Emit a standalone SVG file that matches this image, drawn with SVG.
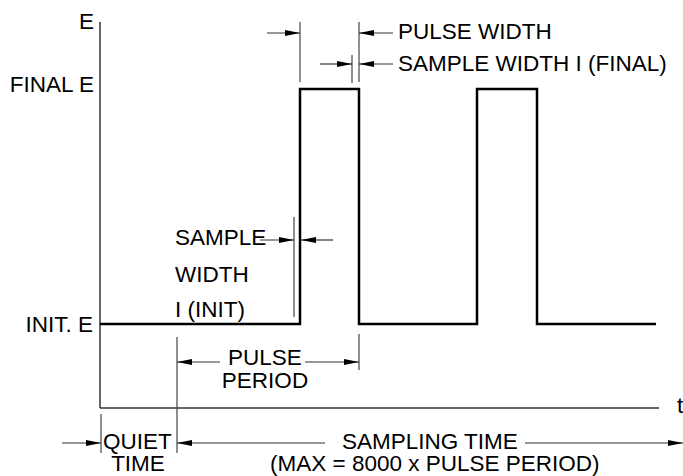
<svg xmlns="http://www.w3.org/2000/svg" width="683" height="476" viewBox="0 0 683 476">
<defs>
<style>
text{font-family:"Liberation Sans",Arial,sans-serif;font-size:22.5px;fill:#000}
.ax{stroke:#333;stroke-width:1.5;fill:none}
.dim{stroke:#444;stroke-width:1.2;fill:none}
.wave{stroke:#000;stroke-width:2.5;fill:none;stroke-linejoin:miter}
.arr{stroke:#333;stroke-width:1.2;fill:none;marker-end:url(#ah)}
.e{text-anchor:end}
.m{text-anchor:middle}
</style>
<marker id="ah" viewBox="0 -3 15 6" refX="15" refY="0" markerWidth="15" markerHeight="6" markerUnits="userSpaceOnUse" orient="auto">
<path d="M0,-3 L15,0 L0,3 z" fill="#000"/>
</marker>
</defs>
<rect width="683" height="476" fill="#fff"/>
<g id="axes">
<line class="ax" x1="100" y1="22" x2="100" y2="408"/>
<line class="ax" x1="100" y1="408" x2="659" y2="408"/>
<text x="94" y="29" class="e">E</text>
<text x="677" y="413">t</text>
</g>
<g id="waveform">
<path class="wave" d="M100,324 H300 V89 H359 V324 H477 V89 H537 V324 H656"/>
<text x="94" y="92" class="e">FINAL E</text>
<text x="93" y="332" class="e">INIT. E</text>
</g>
<g id="extension-lines">
<line class="dim" x1="300" y1="22" x2="300" y2="82"/>
<line class="dim" x1="359" y1="22" x2="359" y2="82"/>
<line class="dim" x1="352" y1="55" x2="352" y2="83"/>
<line class="dim" x1="294" y1="217" x2="294" y2="317"/>
<line class="dim" x1="177" y1="337" x2="177" y2="453"/>
<line class="dim" x1="359" y1="334" x2="359" y2="370"/>
<line class="dim" x1="101" y1="414" x2="101" y2="453"/>
</g>
<g id="connectors">
<line class="arr" x1="267" y1="33" x2="300" y2="33"/>
<line class="arr" x1="393" y1="33" x2="359" y2="33"/>
<line class="arr" x1="320" y1="64" x2="352" y2="64"/>
<line class="arr" x1="393" y1="64" x2="359" y2="64"/>
<line class="arr" x1="260" y1="240" x2="294" y2="240"/>
<line class="arr" x1="333" y1="240" x2="301" y2="240"/>
<line class="arr" x1="220" y1="362" x2="177" y2="362"/>
<line class="arr" x1="305" y1="362" x2="359" y2="362"/>
<line class="arr" x1="62" y1="443" x2="101" y2="443"/>
<line class="arr" x1="325" y1="443" x2="177" y2="443"/>
<line class="arr" x1="525" y1="443" x2="683" y2="443"/>
</g>
<g id="pulse-width">
<text x="398" y="39">PULSE WIDTH</text>
</g>
<g id="sample-width-final">
<text x="398" y="71">SAMPLE WIDTH I (FINAL)</text>
</g>
<g id="sample-width-init">
<text x="175" y="245">SAMPLE</text>
<text x="175" y="282">WIDTH</text>
<text x="175" y="317">I (INIT)</text>
</g>
<g id="pulse-period">
<text x="265" y="365" class="m">PULSE</text>
<text x="265" y="388" class="m">PERIOD</text>
</g>
<g id="quiet-time">
<text x="103" y="449">QUIET</text>
<text x="138" y="471" class="m">TIME</text>
</g>
<g id="sampling-time">
<text x="342" y="449">SAMPLING TIME</text>
<text x="270" y="471">(MAX = 8000 x PULSE PERIOD)</text>
</g>
</svg>
